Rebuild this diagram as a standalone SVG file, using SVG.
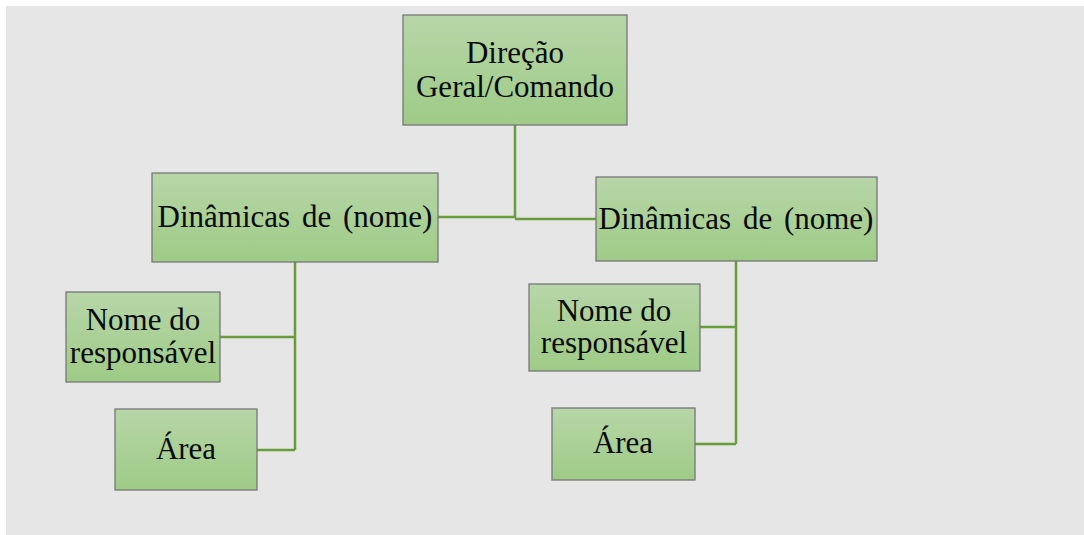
<svg xmlns="http://www.w3.org/2000/svg" width="1084" height="535" viewBox="0 0 1084 535">
<defs>
<linearGradient id="g" x1="0" y1="0" x2="0" y2="1">
<stop offset="0" stop-color="#b7d6a8"/>
<stop offset="1" stop-color="#9ecb86"/>
</linearGradient>
</defs>
<style>
.box{fill:url(#g);stroke:#777;stroke-width:1.3}
.t{font-family:"Liberation Serif","Times New Roman",serif;font-size:31px;fill:#0a0a0a;text-anchor:middle}
.c{fill:none;stroke:#6a9c3c;stroke-width:2.5}
</style>
<rect x="0" y="0" width="1084" height="535" fill="#ffffff"/>
<rect x="6" y="6" width="1078" height="529" fill="#e6e6e6"/>
<g id="connectors">
<path class="c" d="M515,125 V218 M438,217 H515 M515,219 H596"/>
<path class="c" d="M295,262 V450 M220,337 H295 M257,450 H295"/>
<path class="c" d="M736,261 V444 M700,327 H736 M695,444 H736"/>
</g>
<g id="n-direcao">
<rect class="box" x="403" y="15" width="224" height="110"/>
<text class="t" x="515" y="63">Direção</text>
<text class="t" x="515" y="97">Geral/Comando</text>
</g>
<g id="n-din-left">
<rect class="box" x="152" y="173" width="286" height="89"/>
<text class="t" x="295" y="227" word-spacing="4">Dinâmicas de (nome)</text>
</g>
<g id="n-din-right">
<rect class="box" x="596" y="177" width="281" height="84"/>
<text class="t" x="736" y="229" word-spacing="4">Dinâmicas de (nome)</text>
</g>
<g id="n-nome-left">
<rect class="box" x="66" y="292" width="154" height="90"/>
<text class="t" x="143" y="330">Nome do</text>
<text class="t" x="143" y="363">responsável</text>
</g>
<g id="n-area-left">
<rect class="box" x="115" y="409" width="142" height="81"/>
<text class="t" x="186" y="459">Área</text>
</g>
<g id="n-nome-right">
<rect class="box" x="529" y="284" width="171" height="87"/>
<text class="t" x="614" y="321">Nome do</text>
<text class="t" x="614" y="353">responsável</text>
</g>
<g id="n-area-right">
<rect class="box" x="552" y="408" width="143" height="72"/>
<text class="t" x="623" y="453">Área</text>
</g>
</svg>
